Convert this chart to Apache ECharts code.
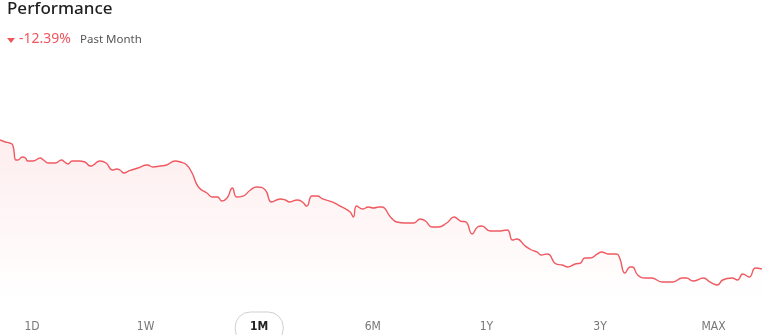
<!DOCTYPE html>
<html>
<head>
<meta charset="utf-8">
<script src="https://cdn.jsdelivr.net/npm/echarts@6/dist/echarts.min.js"></script>
<style>
html,body{margin:0;padding:0;background:#fff;}
#c{width:764px;height:335px;}
</style>
</head>
<body>
<div id="c"></div>
<script>
// hours since start of the month window
var hours = [0,5,9,12,15,17,21,24,26,31,38,41,46,52,58,61,64,68,74,80,85,88,94,100,106,110,113,117,121,124,130,139,144,151,157,165,170,176,181,187,195,200,205,209,214,219,223,229,236,242,250,256,264,269,273,280,285,289,294,299,304,313,322,330,333,336,342,347,352,357,360,368,374,382,390,396,401,407,413,421,428,434,439,445,450,454,462,469,478,483,487,495,501,506,510,516,524,530,535,542,547,551,556,563,567,573,581,584,589,594,596,601,608,614,624,634,643,647,653,663,669,676,681,690,695,700,706,712,718];
// indexed price (start = 100)
var prices = [100.00,99.81,99.71,99.52,98.08,98.08,98.37,98.27,97.98,97.98,98.27,98.08,97.79,97.79,98.08,97.89,97.70,97.98,97.98,97.89,97.50,97.60,97.98,97.79,97.12,97.22,97.12,96.83,97.02,97.12,97.31,97.60,97.41,97.50,97.60,97.98,97.89,97.60,96.83,95.49,94.91,94.53,94.53,94.14,94.43,95.39,94.53,94.62,95.20,95.49,95.20,94.05,94.34,94.24,94.05,94.24,94.05,93.66,94.62,94.62,94.34,94.05,93.57,93.09,92.61,93.66,93.38,93.57,93.47,93.57,93.57,92.61,92.13,92.03,92.03,92.42,92.22,91.65,91.65,92.03,92.61,92.22,92.13,90.98,91.65,91.74,91.26,91.26,91.36,90.40,90.50,89.82,89.44,89.25,88.96,89.06,88.10,88.00,87.81,88.10,88.19,88.67,88.67,89.06,89.25,89.06,89.06,88.67,87.23,87.81,87.81,87.04,86.75,86.75,86.37,86.37,86.75,86.75,86.46,86.75,86.37,86.08,86.56,86.75,86.56,87.14,86.85,87.71,87.62];
var tabs = ['1D','1W','1M','6M','1Y','3Y','MAX'];
var activeTab = '1M';
var changeText = '-12.39%';
var periodText = 'Past Month';

var data = hours.map(function(h,i){return [h, prices[i]];});
var chart = echarts.init(document.getElementById('c'), null, {renderer:'canvas'});
var red = '#ef5a61';
var graphics = [
  {type:'text', left:7, top:1, style:{text:'Performance', font:'500 17px "Noto Sans", "Open Sans", sans-serif', fill:'#1f1f1f'}},
  {type:'polygon', shape:{points:[[7,38],[15,38],[11,43]]}, style:{fill:'#f0545c'}},
  {type:'text', left:19, top:32, style:{text:changeText, font:'14px "Noto Sans", "Open Sans", sans-serif', fill:'#f0545c'}},
  {type:'text', left:80, top:34, style:{text:periodText, font:'11.5px "Noto Sans", "Open Sans", sans-serif', fill:'#555'}}
];
tabs.forEach(function(t,i){
  var cx = 32 + i*113.6;
  var act = t === activeTab;
  if (act) {
    graphics.push({type:'rect', shape:{x:cx-24, y:312, width:48, height:32, r:15}, style:{fill:'#fff', stroke:'#cfcfcf', lineWidth:1}});
  }
  graphics.push({type:'text', x:cx, y:327, style:{text:t, align:'center', verticalAlign:'middle', font:(act?'bold ':'')+'12px "DejaVu Sans Condensed", Roboto, sans-serif', fill: act ? '#222' : '#777'}});
});
chart.setOption({
  animation:false,
  grid:{left:0,right:0,top:130,bottom:35},
  xAxis:{type:'value', min:0, max:720, show:false},
  yAxis:{type:'value', min:84.64, max:100.96, show:false},
  series:[{
    type:'line', data:data, smooth:0.5, symbol:'none',
    lineStyle:{color:red, width:1.4},
    areaStyle:{color:new echarts.graphic.LinearGradient(0,0,0,1,[
      {offset:0,color:'rgba(246,90,97,0.15)'},
      {offset:1,color:'rgba(246,90,97,0)'}
    ])}
  }],
  graphic:graphics
});
</script>
</body>
</html>
